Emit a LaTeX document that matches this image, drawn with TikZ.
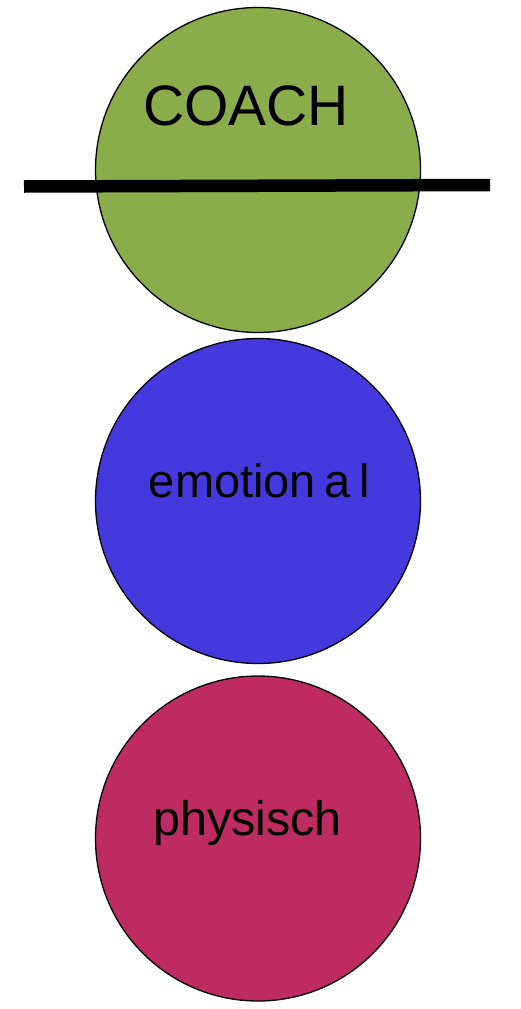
\documentclass[tikz,border=0pt]{standalone}
\usepackage{fontspec}
\setmainfont{Liberation Sans}
\definecolor{cgreen}{HTML}{8BAC4A}
\definecolor{cblue}{HTML}{4539DD}
\definecolor{cred}{HTML}{BE2B63}
\begin{document}
\begin{tikzpicture}[x=1pt,y=-1pt,
  ball/.style={circle,draw=black,line width=1.3pt,minimum size=325pt,inner sep=0pt},
  lbl/.style={anchor=base,inner sep=0pt,text=black}]
\useasboundingbox[fill=white] (0,0) rectangle (521,1009);
\node[ball,fill=cgreen] (coach) at (258,170) {};
\node[ball,fill=cblue] (emo) at (258,501) {};
\node[ball,fill=cred] (phys) at (258,838.5) {};
\node[lbl,font=\fontsize{57}{60}\selectfont] (tcoach) at (246,125) {COACH};
\node[lbl,font=\fontsize{47}{50}\selectfont] (temo) at (259.5,497) {emotion\hspace{0.17em}a\hspace{0.2em}l};
\node[lbl,font=\fontsize{48.5}{50}\selectfont] (tphys) at (247.5,835) {physisch};
\coordinate (barL) at (24,186.5);
\coordinate (barR) at (490,185);
\draw[line width=12.5pt,black] (barL) -- (barR);
\end{tikzpicture}
\end{document}
